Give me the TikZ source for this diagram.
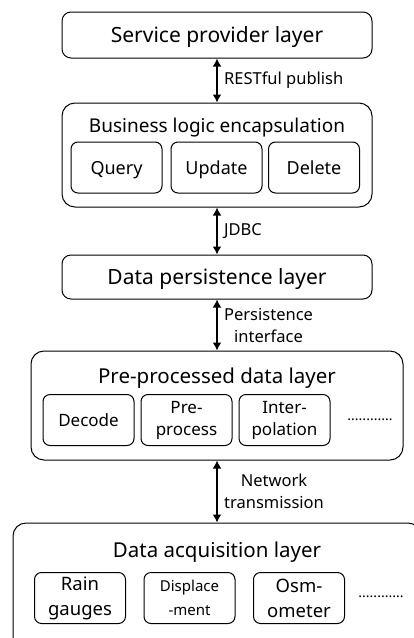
\documentclass[tikz,border=0pt]{standalone}
\usepackage{fontspec}
\setmainfont{Noto Sans}
\usetikzlibrary{arrows.meta}

\begin{document}
\begin{tikzpicture}[x=1pt, y=-1pt]
    \tikzset{layer/.style={draw, line width=1pt, rounded corners=9pt, minimum width=310pt, text depth=0pt, font=\fontsize{21}{24}\selectfont}}
    \tikzset{bigbox/.style={draw, line width=1pt, rounded corners=13pt}}
    \tikzset{title/.style={text depth=0pt, font=\fontsize{20.5}{24}\selectfont}}
    \tikzset{part/.style={draw, line width=1pt, rounded corners=7pt, minimum width=91pt, minimum height=51pt, align=center, inner sep=1pt, font=\fontsize{18.5}{25}\selectfont}}
    \tikzset{single/.style={text depth=0pt}}
    \tikzset{link/.style={{Latex[length=8pt,width=9pt]}-{Latex[length=8pt,width=9pt]}, line width=1.6pt}}
    \tikzset{linklabel/.style={right, xshift=3pt, align=center, font=\fontsize{16.5}{22}\selectfont}}
    \tikzset{more/.style={font=\fontsize{14}{16}\selectfont}}
    \useasboundingbox (0,0) rectangle (414,638);

    \node[layer, minimum height=46pt] (Service) at (217,35) {Service provider layer};

    \node[bigbox, minimum width=310pt, minimum height=104pt] (Business) at (217,155) {};
        \node[title, font=\fontsize{19}{22}\selectfont] (BusinessTitle) at (217,125) {Business logic encapsulation};
        \node[part, single, font=\fontsize{18}{22}\selectfont] (Query) at (116.5,167.5) {Query};
        \node[part, single, font=\fontsize{18}{22}\selectfont] (Update) at (216.5,167.5) {Update};
        \node[part, single, font=\fontsize{18}{22}\selectfont] (Delete) at (314,167.5) {Delete};

    \node[layer, minimum height=44pt] (Persistence) at (217,277) {Data persistence layer};

    \node[bigbox, minimum width=372pt, minimum height=109pt] (Preprocessed) at (217,405.5) {};
        \node[title] (PreprocessedTitle) at (217,376) {Pre-processed data layer};
        \node[part, single, font=\fontsize{17}{22}\selectfont] (Decode) at (88.5,420) {Decode};
        \node[part, font=\fontsize{17}{22}\selectfont] (Preprocess) at (186.5,420) {Pre-\\process};
        \node[part, font=\fontsize{17}{22}\selectfont] (Interpolation) at (284.5,420) {Inter-\\polation};
        \node[more] (PreprocessedDots) at (370,420) {............};

    \node[bigbox, minimum width=408pt, minimum height=130pt] (Acquisition) at (217,588) {};
        \node[title] (AcquisitionTitle) at (217,550) {Data acquisition layer};
        \node[part] (Rain) at (80,598) {Rain\\gauges};
        \node[part, font=\fontsize{15}{24}\selectfont] (Displacement) at (189.5,598) {Displace\\-ment};
        \node[part] (Osmometer) at (299,598) {Osm-\\ometer};
        \node[more] (AcquisitionDots) at (381,597) {............};

    % connectors between the layers
    \draw[link] (Service) -- node[linklabel] {RESTful publish} (Business);
    \draw[link] (Business) -- node[linklabel] {JDBC} (Persistence);
    \draw[link] (Persistence) -- node[linklabel] {Persistence\\interface} (Preprocessed);
    \draw[link] (Preprocessed) -- node[linklabel] {Network\\transmission} (Acquisition);
\end{tikzpicture}
\end{document}
